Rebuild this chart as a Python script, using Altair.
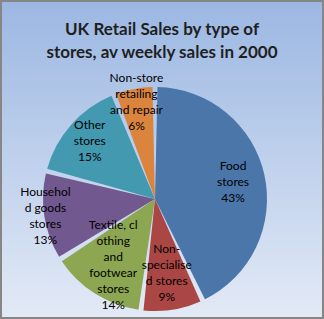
import altair as alt
import pandas as pd

# ---- data ----
categories = [
    "Food stores",
    "Non-specialised stores",
    "Textile, clothing and footwear stores",
    "Household goods stores",
    "Other stores",
    "Non-store retailing and repair",
]
shares = [43, 9, 14, 13, 15, 6]
label_lines = [
    ["Food", "stores"],
    ["Non-", "specialise", "d stores"],
    ["Textile, cl", "othing", "and", "footwear", "stores"],
    ["Househol", "d goods", "stores"],
    ["Other", "stores"],
    ["Non-store", "retailing", "and repair"],
]
title_lines = ["UK Retail Sales by type of", "stores, av weekly sales in 2000"]

# ---- styling / layout ----
colors = ["#4A76AA", "#AA4643", "#8CA652", "#71588F", "#4399B0", "#DB843D"]
label_radius = {  # best-fit label distance from the pie centre
    "Food stores": 80,
    "Non-specialised stores": 75,
    "Textile, clothing and footwear stores": 78,
    "Household goods stores": 111,
    "Other stores": 87,
    "Non-store retailing and repair": 99,
}
W, H = 324, 319
CX, CY = 155, 199
R = 112
LH = 16
FONT = "Lato"

df = pd.DataFrame({
    "category": categories,
    "share": shares,
    "order": list(range(len(categories))),
    "label": ["\n".join(l + [f"{s}%"]) for l, s in zip(label_lines, shares)],
    "nlines": [len(l) + 1 for l in label_lines],
})
df["lr"] = df["category"].map(label_radius)

bg = alt.Chart(pd.DataFrame({"a": [0]})).mark_rect(
    color=alt.LinearGradient(
        gradient="linear",
        stops=[alt.GradientStop(color="#9BB7E2", offset=0),
               alt.GradientStop(color="#E3EAF6", offset=1)],
        x1=0, x2=0, y1=0, y2=1,
    )
).encode(x=alt.value(0), x2=alt.value(W), y=alt.value(0), y2=alt.value(H))

pie = alt.Chart(df).mark_arc(outerRadius=R, padAngle=0.045).encode(
    theta=alt.Theta("share:Q", stack=True),
    order=alt.Order("order:Q"),
    x=alt.value(CX),
    y=alt.value(CY),
    color=alt.Color("category:N",
                    scale=alt.Scale(domain=categories, range=colors),
                    legend=None),
)

labels = alt.Chart(df).transform_joinaggregate(
    total="sum(share)"
).transform_window(
    cum="sum(share)", sort=[alt.SortField("order")]
).transform_calculate(
    mid="(datum.cum - datum.share / 2) / datum.total * 2 * PI",
).transform_calculate(
    lx=f"{CX} + datum.lr * sin(datum.mid)",
    ly=f"{CY} - datum.lr * cos(datum.mid) - (datum.nlines - 1) * {LH} / 2",
).mark_text(
    font=FONT, fontSize=12, lineBreak="\n", lineHeight=LH,
    align="center", baseline="middle", color="#000000",
).encode(
    x=alt.X("lx:Q", scale=None),
    y=alt.Y("ly:Q", scale=None),
    text="label:N",
)

border = alt.Chart(pd.DataFrame({"a": [0]})).mark_rect(
    fillOpacity=0, stroke="#868686", strokeWidth=2
).encode(x=alt.value(1), x2=alt.value(W - 1), y=alt.value(1), y2=alt.value(H - 1))

chart = alt.layer(bg, pie, labels, border).properties(
    width=W, height=H,
    padding=0,
    autosize=alt.AutoSizeParams(type="none"),
    title=alt.TitleParams(
        text=title_lines, font=FONT, fontSize=17, fontWeight="bold",
        color="#1F1F1F", anchor="middle", offset=-62, lineHeight=23,
    ),
).configure_view(strokeWidth=0)

chart.save("out.html", embed_options={"renderer": "svg", "actions": False})
